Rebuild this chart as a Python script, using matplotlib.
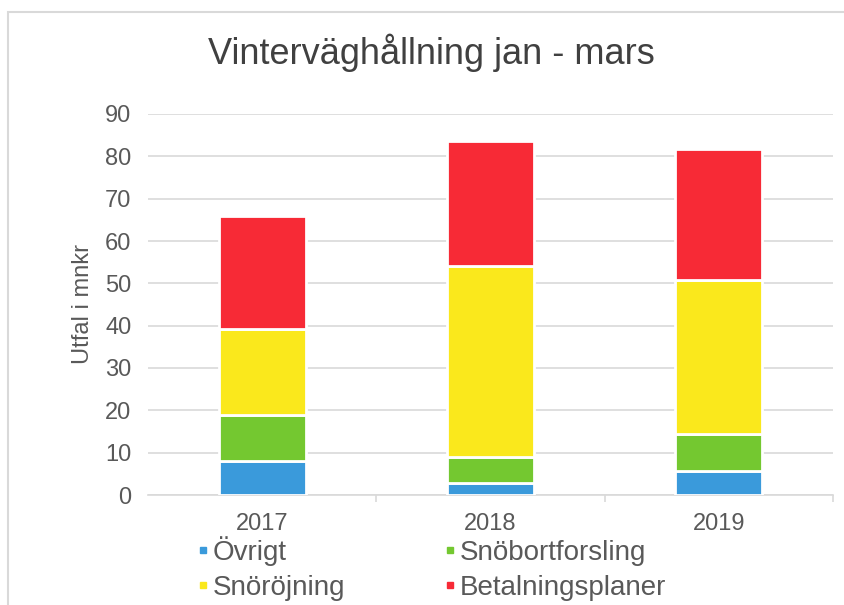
import matplotlib
matplotlib.use("Agg")
import matplotlib.pyplot as plt
from matplotlib.lines import Line2D
from matplotlib.patches import Rectangle
import numpy as np

plt.rcParams['font.family'] = ['Liberation Sans', 'DejaVu Sans']

years = ["2017", "2018", "2019"]
series_names = ["Övrigt", "Snöbortforsling", "Snöröjning", "Betalningsplaner"]
ovrigt = [8.0, 2.9, 5.6]
snobortforsling = [10.9, 6.1, 8.9]
snorojning = [20.3, 45.2, 36.2]
betalningsplaner = [26.6, 29.5, 31.0]
colors = ["#3A9ADB", "#74C830", "#FAE81C", "#F72A36"]
yticks = [0, 10, 20, 30, 40, 50, 60, 70, 80, 90]

text_col = "#595959"
grid_col = "#D9D9D9"

fig = plt.figure(figsize=(8.45, 6.05), dpi=100)
ax = fig.add_axes([148/845, 1-495/605, (833-148)/845, (495-114)/605])

x = np.arange(len(years))
bottom = np.zeros(len(years))
handles = []
for name, vals, c in zip(series_names,
                         [ovrigt, snobortforsling, snorojning, betalningsplaner],
                         colors):
    ax.bar(x, vals, width=0.38, bottom=bottom, color=c,
           edgecolor="white", linewidth=2.0, zorder=3)
    bottom += np.array(vals)
    handles.append(Line2D([], [], marker="s", linestyle="none",
                          markersize=4.5, color=c, label=name))

ax.set_xlim(-0.5, 2.5)
ax.set_ylim(0, 90)
ax.set_yticks(yticks)
ax.yaxis.grid(True, color=grid_col, linewidth=1.2, zorder=0)
ax.set_axisbelow(True)
for s in ["top", "right", "left"]:
    ax.spines[s].set_visible(False)
ax.spines["bottom"].set_color(grid_col)
ax.spines["bottom"].set_linewidth(1.2)
ax.tick_params(axis="y", length=0, pad=12, labelsize=17, labelcolor=text_col)
ax.set_xticks(x)
ax.set_xticklabels(years)
ax.tick_params(axis="x", length=0, pad=13, labelsize=17, labelcolor=text_col)
ax.set_xticks([0.5, 1.5, 2.5], minor=True)
ax.tick_params(axis="x", which="minor", length=5, color=grid_col, width=1.2)

ax.set_ylabel("Utfal i mnkr", fontsize=17, color=text_col, labelpad=8)

fig.text(431/845, 1-64/605, "Vinterväghållning jan - mars", ha="center",
         va="baseline", fontsize=26, color="#404040")

# reorder so that the two-column legend reads row-wise
order = [0, 2, 1, 3]
leg = fig.legend([handles[i] for i in order],
                 [series_names[i] for i in order],
                 ncol=2, loc="upper left",
                 bbox_to_anchor=(199/845, 1-536/605),
                 frameon=False, fontsize=20, labelcolor=text_col,
                 handlelength=0.3, handletextpad=0.2, columnspacing=3.6,
                 labelspacing=0.33, borderpad=0, borderaxespad=0)

# outer chart frame
fig.patches.append(Rectangle((8/845, -0.1), 1.2, 1-12/605 + 0.1,
                             transform=fig.transFigure, fill=False,
                             edgecolor="#D9D9D9", linewidth=1.5))

fig.savefig("out.png", dpi=100, facecolor="white")
